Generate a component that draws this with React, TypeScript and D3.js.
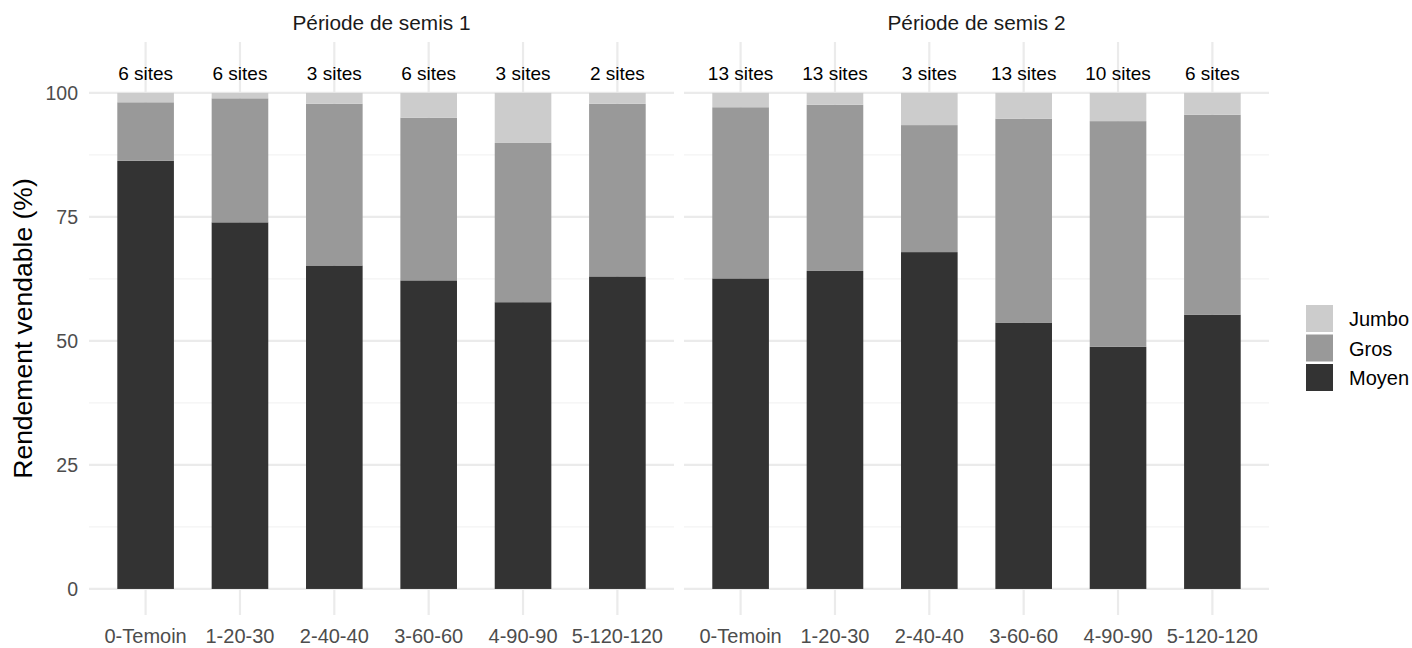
import React from "react";
import * as d3 from "d3";

const panels = ["Période de semis 1", "Période de semis 2"];
const categories = ["0-Temoin", "1-20-30", "2-40-40", "3-60-60", "4-90-90", "5-120-120"];
const sizes = ["Moyen", "Gros", "Jumbo"];
const legendOrder = ["Jumbo", "Gros", "Moyen"];
const moyenP1 = [86.3, 73.9, 65.2, 62.2, 57.8, 63.0];
const grosP1 = [11.8, 25.0, 32.6, 32.8, 32.1, 34.8];
const jumboP1 = [1.9, 1.1, 2.2, 5.0, 10.1, 2.2];
const moyenP2 = [62.6, 64.1, 67.9, 53.7, 48.8, 55.3];
const grosP2 = [34.5, 33.5, 25.6, 41.1, 45.5, 40.3];
const jumboP2 = [2.9, 2.4, 6.5, 5.2, 5.7, 4.4];
const sitesP1 = ["6 sites", "6 sites", "3 sites", "6 sites", "3 sites", "2 sites"];
const sitesP2 = ["13 sites", "13 sites", "3 sites", "13 sites", "10 sites", "6 sites"];
const yTicks = [0, 25, 50, 75, 100];
const yMinor = [12.5, 37.5, 62.5, 87.5];
const siteLabelValue = 104;
const colors: Record<string, string> = { Moyen: "#333333", Gros: "#999999", Jumbo: "#CCCCCC" };

const panelData = [
  { title: panels[0], moyen: moyenP1, gros: grosP1, jumbo: jumboP1, sites: sitesP1 },
  { title: panels[1], moyen: moyenP2, gros: grosP2, jumbo: jumboP2, sites: sitesP2 },
];

const FONT = "Liberation Sans, Arial, sans-serif";

export default function App() {
  const W = 1412, H = 648;
  const panelX: [number, number][] = [[89, 674], [684, 1269]];
  const top = 42, bottom = 615;
  const y = d3.scaleLinear().domain([-5.25, 110.25]).range([bottom, top]);

  return (
    <svg width={W} height={H} style={{ position: "absolute", left: 0, top: 0, background: "#fff" }} fontFamily={FONT}>
      {panelData.map((p, pi) => {
        const x = d3.scalePoint().domain(categories).range([
          panelX[pi][0] + ((panelX[pi][1] - panelX[pi][0]) / 6.2) * 0.6,
          panelX[pi][1] - ((panelX[pi][1] - panelX[pi][0]) / 6.2) * 0.6,
        ]);
        const step = x.step();
        const bw = step * 0.6;
        const stack = d3.stack<number>().keys(["0", "1", "2"]).value((i, k) => [p.moyen, p.gros, p.jumbo][+k][i]);
        const series = stack(d3.range(categories.length));
        return (
          <g key={pi}>
            {yMinor.map((v) => (
              <line key={"m" + v} x1={panelX[pi][0]} x2={panelX[pi][1]} y1={y(v)} y2={y(v)} stroke="#F3F3F3" strokeWidth={1.2} />
            ))}
            {yTicks.map((v) => (
              <line key={"M" + v} x1={panelX[pi][0]} x2={panelX[pi][1]} y1={y(v)} y2={y(v)} stroke="#EBEBEB" strokeWidth={2.2} />
            ))}
            {categories.map((c) => (
              <line key={"v" + c} x1={x(c)!} x2={x(c)!} y1={top} y2={bottom} stroke="#EBEBEB" strokeWidth={2.2} />
            ))}
            {series.map((s, si) =>
              s.map((d, i) => (
                <rect key={si + "-" + i} x={x(categories[i])! - bw / 2} width={bw} y={y(d[1])} height={y(d[0]) - y(d[1])} fill={colors[sizes[si]]} />
              ))
            )}
            {p.sites.map((t, i) => (
              <text key={"s" + i} x={x(categories[i])!} y={y(siteLabelValue)} textAnchor="middle" dominantBaseline="central" fontSize={19} fill="#000">{t}</text>
            ))}
            {categories.map((c) => (
              <text key={"t" + c} x={x(c)!} y={636} textAnchor="middle" dominantBaseline="central" fontSize={20} fill="#4D4D4D">{c}</text>
            ))}
            <text x={(panelX[pi][0] + panelX[pi][1]) / 2} y={22} textAnchor="middle" dominantBaseline="central" fontSize={20.8} fill="#1A1A1A">{p.title}</text>
          </g>
        );
      })}
      {yTicks.map((v) => (
        <text key={"yl" + v} x={78} y={y(v)} textAnchor="end" dominantBaseline="central" fontSize={19.5} fill="#4D4D4D">{v}</text>
      ))}
      <text transform={`translate(23,${(top + bottom) / 2}) rotate(-90)`} textAnchor="middle" dominantBaseline="central" fontSize={26.5} fill="#000">Rendement vendable (%)</text>
      {legendOrder.map((k, i) => (
        <g key={k} transform={`translate(1306,${305 + i * 29.5})`}>
          <rect width={27} height={27} fill={colors[k]} />
          <text x={43} y={14} dominantBaseline="central" fontSize={20} fill="#000">{k}</text>
        </g>
      ))}
    </svg>
  );
}
